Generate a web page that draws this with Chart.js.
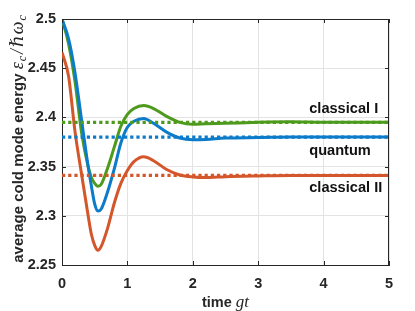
<!DOCTYPE html>
<html>
<head>
<meta charset="utf-8">
<script src="https://cdn.jsdelivr.net/npm/chart.js@4"></script>
<style>
  html, body { margin: 0; padding: 0; background: #fff; }
</style>
</head>
<body>
<canvas id="chart" width="415" height="311"></canvas>
<script>
// time axis (gt) and the three curves
const times = [0, 0.1, 0.2, 0.3, 0.4, 0.45, 0.5, 0.55, 0.6, 0.7, 0.8, 0.9, 1.0, 1.1, 1.25, 1.4, 1.6, 1.8, 2.0, 2.2, 2.5, 3.0, 3.5, 4.0, 4.5, 5.0];
const classicalI = [2.5, 2.475, 2.436, 2.384, 2.35, 2.339, 2.333, 2.33, 2.332, 2.349, 2.37, 2.391, 2.403, 2.409, 2.412, 2.409, 2.401, 2.395, 2.393, 2.3935, 2.394, 2.395, 2.3955, 2.395, 2.395, 2.395];
const quantum = [2.5, 2.48, 2.445, 2.397, 2.35, 2.33, 2.312, 2.305, 2.307, 2.325, 2.348, 2.374, 2.39, 2.396, 2.399, 2.394, 2.385, 2.379, 2.3772, 2.3775, 2.379, 2.3795, 2.38, 2.38, 2.38, 2.38];
const classicalII = [2.466, 2.442, 2.385, 2.342, 2.3, 2.281, 2.27, 2.265, 2.269, 2.288, 2.313, 2.333, 2.346, 2.355, 2.36, 2.356, 2.347, 2.3415, 2.3395, 2.339, 2.3398, 2.3405, 2.341, 2.341, 2.341, 2.341];

// steady-state levels (dotted lines)
const levelTimes = [0, 5];
const levelValues = [2.395, 2.38, 2.341];

const seriesNames = ["classical I", "quantum", "classical II"];
const seriesColors = ["#4d9a1c", "#0c7bc9", "#d4562b"];

const xTicks = [0, 1, 2, 3, 4, 5];
const yTickLabels = ["2.25", "2.3", "2.35", "2.4", "2.45", "2.5"];

const pts = (xs, ys) => xs.map((x, i) => ({ x: x, y: ys[i] }));
const curves = [classicalI, quantum, classicalII];

const datasets = [];
// dotted levels first, solid curves on top (green last)
levelValues.forEach((v, i) => {
  datasets.push({
    label: seriesNames[i] + " level",
    data: pts(levelTimes, levelTimes.map(() => v)),
    borderColor: seriesColors[i],
    borderWidth: 3.2,
    borderDash: [3.2, 3],
    pointRadius: 0,
    fill: false
  });
});
[2, 1, 0].forEach(i => {
  datasets.push({
    label: seriesNames[i],
    data: pts(times, curves[i]),
    borderColor: seriesColors[i],
    borderWidth: 3,
    pointRadius: 0,
    cubicInterpolationMode: "monotone",
    fill: false
  });
});

const AXIS = "#262626";
const SANS = "'Liberation Sans', Arial, sans-serif";
const SERIF = "'Liberation Serif', 'DejaVu Serif', serif";

// box, inner ticks, curve labels and axis titles
const decor = {
  id: "decor",
  afterDraw(chart) {
    const { ctx, chartArea: a, scales } = chart;
    const xs = scales.x, ys = scales.y;
    ctx.save();
    ctx.strokeStyle = AXIS;
    ctx.lineWidth = 1;
    ctx.beginPath();
    ctx.moveTo(a.left, a.top + 0.5); ctx.lineTo(a.right, a.top + 0.5);
    ctx.moveTo(a.right - 0.5, a.top); ctx.lineTo(a.right - 0.5, a.bottom);
    xTicks.forEach(t => {
      const px = Math.round(xs.getPixelForValue(t)) + 0.5;
      ctx.moveTo(px, a.bottom); ctx.lineTo(px, a.bottom - 4);
      ctx.moveTo(px, a.top); ctx.lineTo(px, a.top + 4);
    });
    yTickLabels.forEach(l => {
      const py = Math.round(ys.getPixelForValue(+l)) + 0.5;
      ctx.moveTo(a.left, py); ctx.lineTo(a.left + 4, py);
      ctx.moveTo(a.right, py); ctx.lineTo(a.right - 4, py);
    });
    ctx.stroke();

    // curve labels
    ctx.fillStyle = "#111";
    ctx.font = "bold 14.6px " + SANS;
    ctx.textAlign = "left";
    ctx.textBaseline = "middle";
    const labelY = [2.4085, 2.366, 2.328];
    seriesNames.forEach((n, i) => {
      ctx.fillText(n, xs.getPixelForValue(3.78), ys.getPixelForValue(labelY[i]));
    });

    // x title: "time gt"
    ctx.fillStyle = AXIS;
    const bold = "bold 14.5px " + SANS;
    const ital = "italic 17px " + SERIF;
    const small = "italic 12px " + SERIF;
    ctx.font = bold;
    const w1 = ctx.measureText("time ").width;
    ctx.font = ital;
    const w2 = ctx.measureText("gt").width;
    let x0 = (a.left + a.right) / 2 - (w1 + w2) / 2;
    ctx.textBaseline = "alphabetic";
    ctx.font = bold; ctx.fillText("time ", x0, 306.5);
    ctx.font = ital; ctx.fillText("gt", x0 + w1, 306.5);

    // y title, rotated
    const parts = [
      { t: "average cold mode energy ", f: "bold 15px " + SANS, dy: 0, gap: 0 },
      { t: "\u03B5", f: "italic 18px " + SERIF, dy: 0, gap: 1 },
      { t: "c", f: small, dy: 3, gap: 2 },
      { t: "/", f: "italic 18px " + SERIF, dy: 0, gap: 2 },
      { t: "\u210F", f: "italic 18px " + SERIF, dy: 0, gap: 1 },
      { t: "\u03C9", f: "italic 18px " + SERIF, dy: 0, gap: 1 },
      { t: "c", f: small, dy: 3, gap: 0 }
    ];
    let total = 0;
    parts.forEach(p => { ctx.font = p.f; p.w = ctx.measureText(p.t).width; total += p.w + p.gap; });
    ctx.translate(23, 139);
    ctx.rotate(-Math.PI / 2);
    let cx = -total / 2;
    parts.forEach(p => {
      ctx.font = p.f;
      ctx.fillText(p.t, cx, p.dy);
      cx += p.w + p.gap;
    });
    ctx.restore();
  }
};

new Chart(document.getElementById("chart"), {
  type: "line",
  data: { datasets: datasets },
  options: {
    responsive: false,
    animation: false,
    layout: { padding: { left: 0, top: 19, right: 26, bottom: 0 } },
    plugins: { legend: { display: false }, tooltip: { enabled: false } },
    scales: {
      x: {
        type: "linear",
        min: 0, max: 5,
        afterFit: s => { s.height = 46; },
        afterBuildTicks: s => { s.ticks = xTicks.map(v => ({ value: v })); },
        grid: { color: "#e3e3e3", drawTicks: false },
        border: { color: AXIS, width: 1 },
        ticks: {
          color: AXIS,
          padding: 10,
          font: { family: SANS, size: 14.5, weight: "bold" },
          callback: v => String(v)
        }
      },
      y: {
        min: 2.25, max: 2.5,
        afterFit: s => { s.width = 62; },
        afterBuildTicks: s => { s.ticks = yTickLabels.map(l => ({ value: +l })); },
        grid: { color: "#e3e3e3", drawTicks: false },
        border: { color: AXIS, width: 1 },
        ticks: {
          color: AXIS,
          padding: 6,
          font: { family: SANS, size: 14.5, weight: "bold" },
          callback: v => yTickLabels.find(l => Math.abs(+l - v) < 1e-6)
        }
      }
    }
  },
  plugins: [decor]
});
</script>
</body>
</html>
